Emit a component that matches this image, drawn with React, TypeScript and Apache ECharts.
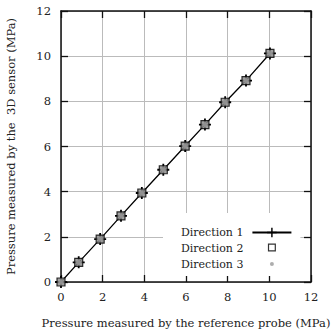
import React, { useEffect, useRef } from "react";
import * as echarts from "echarts";

const refProbe = [0, 0.85, 1.88, 2.88, 3.88, 4.91, 5.96, 6.91, 7.88, 8.88, 10.03];
const sensor3D = [0, 0.87, 1.9, 2.93, 3.94, 4.97, 6.02, 6.97, 7.96, 8.92, 10.12];
const seriesNames = ["Direction 1", "Direction 2", "Direction 3"];
const axisTicks = [0, 2, 4, 6, 8, 10, 12];

const FONT = "DejaVu Serif";
const PLUS = "path://M-0.9,-6 L0.9,-6 L0.9,-0.9 L6,-0.9 L6,0.9 L0.9,0.9 L0.9,6 L-0.9,6 L-0.9,0.9 L-6,0.9 L-6,-0.9 L-0.9,-0.9 Z";
const SQUARE_ICON = "path://M0,0 M39,12 M15.5,1.5 L23.5,1.5 L23.5,9.5 L15.5,9.5 Z M16.7,2.7 L16.7,8.3 L22.3,8.3 L22.3,2.7 Z";
const DOT_ICON = "path://M0,0 M39,12 M17.5,6 A2,2 0 1 1 21.5,6 A2,2 0 1 1 17.5,6 Z";

export default function App() {
  const ref = useRef<HTMLDivElement>(null);
  useEffect(() => {
    if (!ref.current) return;
    const chart = echarts.init(ref.current, null, { renderer: "svg" });
    const pts = refProbe.map((x, i) => [x, sensor3D[i]]);
    const amin = axisTicks[0];
    const amax = axisTicks[axisTicks.length - 1];
    const step = axisTicks[1] - axisTicks[0];
    const mainAxis = (name: string, isX: boolean) => ({
      type: "value",
      min: amin,
      max: amax,
      interval: step,
      name,
      nameLocation: "middle",
      nameGap: isX ? 35 : 44,
      nameTextStyle: { fontFamily: FONT, fontSize: 11.5, color: "#222" },
      axisLine: { show: true, onZero: false, lineStyle: { color: "#111", width: 1.5 } },
      axisTick: { show: true, inside: true, length: 7, lineStyle: { color: "#111", width: 1.3 } },
      axisLabel: { fontFamily: FONT, fontSize: 11.5, color: "#222", margin: isX ? 9 : 10 },
      splitLine: { show: true, lineStyle: { color: "#bbb", width: 1 } },
    });
    const mirrorAxis = (pos: string) => ({
      type: "value",
      min: amin,
      max: amax,
      interval: step,
      position: pos,
      axisLine: { show: true, onZero: false, lineStyle: { color: "#111", width: 1.5 } },
      axisTick: { show: true, inside: true, length: 7, lineStyle: { color: "#111", width: 1.3 } },
      axisLabel: { show: false },
      splitLine: { show: false },
    });
    chart.setOption({
      animation: false,
      backgroundColor: "#fff",
      textStyle: { fontFamily: FONT },
      grid: { left: 61, right: 24, top: 11, bottom: 49, outerBoundsMode: "none", containLabel: false },
      xAxis: [
        { ...mainAxis("Pressure measured by the reference probe (MPa)", true), position: "bottom" },
        mirrorAxis("top"),
      ],
      yAxis: [
        { ...mainAxis("Pressure measured by the  3D sensor (MPa)", false), position: "left" },
        mirrorAxis("right"),
      ],
      legend: {
        orient: "vertical",
        align: "right",
        left: 163,
        top: 213,
        padding: [14, 8, 6, 18],
        itemGap: 4,
        itemWidth: 39,
        itemHeight: 12,
        backgroundColor: "#fff",
        textStyle: { fontFamily: FONT, fontSize: 11, color: "#222", padding: [0, 4, 0, 0] },
        data: [
          { name: seriesNames[0] },
          { name: seriesNames[1], icon: SQUARE_ICON, itemStyle: { color: "#000", borderWidth: 0 } },
          { name: seriesNames[2], icon: DOT_ICON, itemStyle: { color: "#999", borderWidth: 0 } },
        ],
      },
      series: [
        {
          name: seriesNames[0],
          type: "line",
          data: pts,
          symbol: PLUS,
          symbolSize: 12,
          showAllSymbol: true,
          lineStyle: { color: "#000", width: 1.3 },
          itemStyle: { color: "#000" },
          z: 2,
        },
        {
          name: seriesNames[1],
          type: "scatter",
          data: pts,
          symbol: "rect",
          symbolSize: 8,
          itemStyle: { color: "#8a8a8a", borderColor: "#000", borderWidth: 1.2 },
          z: 3,
        },
        {
          name: seriesNames[2],
          type: "scatter",
          data: pts,
          symbol: "circle",
          symbolSize: 5,
          itemStyle: { color: "#999" },
          z: 4,
        },
      ],
    });
    return () => chart.dispose();
  }, []);
  return <div ref={ref} style={{ position: "fixed", left: 0, top: 0, width: 335, height: 331 }} />;
}
